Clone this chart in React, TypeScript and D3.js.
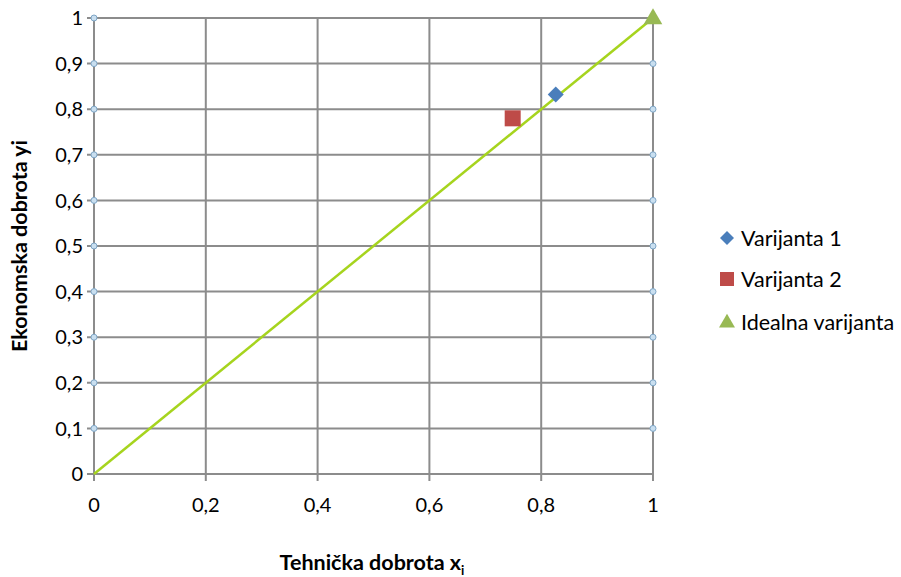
import React from "react";
import * as d3 from "d3";

const xTicks = [0, 0.2, 0.4, 0.6, 0.8, 1];
const yTicks = [0, 0.1, 0.2, 0.3, 0.4, 0.5, 0.6, 0.7, 0.8, 0.9, 1];
const lineX = [0, 1];
const lineY = [0, 1];
const v1 = { name: "Varijanta 1", x: 0.826, y: 0.832 };
const v2 = { name: "Varijanta 2", x: 0.749, y: 0.78 };
const ideal = { name: "Idealna varijanta", x: 1, y: 1 };
const edgeY = [0.1, 0.2, 0.3, 0.4, 0.5, 0.6, 0.7, 0.8, 0.9, 1];
const edgeX = [0, 1];

const fmt = (v: number) => (v === 0 || v === 1 ? String(v) : String(v).replace(".", ","));

export default function App() {
  const W = 901, H = 577;
  const x = d3.scaleLinear().domain([0, 1]).range([94, 653]);
  const y = d3.scaleLinear().domain([0, 1]).range([474, 18]);
  const font = "Lato, 'Open Sans', sans-serif";
  const grid = "#8c8c8c";
  const line = d3.line<number>().x((d) => x(lineX[d])).y((d) => y(lineY[d]));
  const tri = d3.symbol().type(d3.symbolTriangle).size(150)();
  const diamond = "M0,-8L8,0L0,8L-8,0Z";
  const legendItems = [v1, v2, ideal];
  return (
    <svg width={W} height={H} style={{ position: "absolute", left: 0, top: 0, background: "#fff" }}>
      {yTicks.map((t) => (
        <line key={"gy" + t} x1={x(0) - 7} x2={x(1)} y1={y(t)} y2={y(t)} stroke={grid} strokeWidth={2} />
      ))}
      {xTicks.map((t) => (
        <line key={"gx" + t} x1={x(t)} x2={x(t)} y1={y(1)} y2={y(0) + 7} stroke={grid} strokeWidth={2} />
      ))}
      {yTicks.map((t) => (
        <text key={"ty" + t} x={x(0) - 11} y={y(t)} dy="0.36em" textAnchor="end" fontFamily={font} fontSize={20} fill="#000">
          {fmt(t)}
        </text>
      ))}
      {xTicks.map((t) => (
        <text key={"tx" + t} x={x(t)} y={y(0) + 38} textAnchor="middle" fontFamily={font} fontSize={20} fill="#000">
          {fmt(t)}
        </text>
      ))}
      {edgeX.map((ex) =>
        edgeY.map((ey) => (
          <circle key={"c" + ex + ey} cx={x(ex)} cy={y(ey)} r={3} fill="#c9dff0" stroke="#7fa6c6" strokeWidth={1} />
        ))
      )}
      <path d={line([0, 1]) || ""} stroke="#a6d41e" strokeWidth={2.5} fill="none" />
      <path d={diamond} transform={`translate(${x(v1.x)},${y(v1.y)})`} fill="#4a7ebb" />
      <rect x={x(v2.x) - 8} y={y(v2.y) - 8} width={16} height={16} fill="#be4b48" />
      <path d={tri || ""} transform={`translate(${x(ideal.x)},${y(ideal.y) + 1})`} fill="#98b954" />
      {legendItems.map((it, i) => {
        const ly = [238, 279, 322][i];
        return (
          <g key={it.name} transform={`translate(727,${ly})`}>
            {i === 0 && <path d="M0,-7L7,0L0,7L-7,0Z" fill="#4a7ebb" />}
            {i === 1 && <rect x={-7} y={-7} width={14} height={14} fill="#be4b48" />}
            {i === 2 && <path d={d3.symbol().type(d3.symbolTriangle).size(110)() || ""} transform="translate(0,1)" fill="#98b954" />}
            <text x={14} dy="0.36em" fontFamily={font} fontSize={21.5} fill="#000">{it.name}</text>
          </g>
        );
      })}
      <text x={372} y={570} textAnchor="middle" fontFamily={font} fontSize={21.5} fontWeight="bold" fill="#000">
        Tehnička dobrota x<tspan fontSize={13} dy={5}>i</tspan>
      </text>
      <text transform={`translate(27,${y(0.5)}) rotate(-90)`} textAnchor="middle" fontFamily={font} fontSize={21.5} fontWeight="bold" fill="#000">
        Ekonomska dobrota yi
      </text>
    </svg>
  );
}
